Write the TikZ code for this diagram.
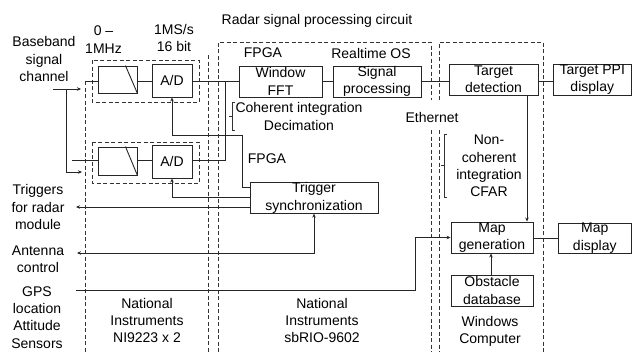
\documentclass[tikz,border=0pt]{standalone}
\usepackage{fontspec}
\setmainfont{Liberation Sans}
\usetikzlibrary{arrows.meta}

\begin{document}
\begin{tikzpicture}[x=1pt,y=-1pt,
  every node/.style={font=\fontsize{14}{17.3}\selectfont, text=black, align=center, inner sep=0pt},
  blk/.style={draw=black!85, rectangle, line width=0.9pt},
  wire/.style={draw=black!85, line width=0.9pt},
  arr/.style={wire, -{Stealth[length=4pt,width=3.5pt]}},
  grp/.style={draw=black!80, line width=0.8pt, dash pattern=on 4pt off 2.5pt},
  brk/.style={draw=black!80, line width=0.6pt},
]
\useasboundingbox (0,0) rectangle (632,351);

% row levels
\coordinate (row1) at (0,81);
\coordinate (row2) at (0,160);

% acquisition blocks
\node[blk, minimum width=39pt, minimum height=27pt] (filt1) at (117.5,79.5) {};
\node[blk, minimum width=40pt, minimum height=33pt] (ad1) at (172,80.5) {A/D};
\node[blk, minimum width=39pt, minimum height=28pt] (filt2) at (117.5,161) {};
\node[blk, minimum width=40pt, minimum height=33pt] (ad2) at (172,161.5) {A/D};
\draw[wire] ([xshift=-12pt]filt1.north east) -- (filt1.south east);
\draw[wire] ([xshift=-12pt]filt2.north east) -- (filt2.south east);

% processing blocks
\node[blk, minimum width=83pt, minimum height=31pt] (win) at (280.5,81.5) {Window\\FFT};
\node[blk, minimum width=88pt, minimum height=31pt] (sig) at (377,81.5) {Signal\\processing};
\node[blk, minimum width=89pt, minimum height=31pt] (tdet) at (493.5,79.5) {Target\\detection};
\node[blk, minimum width=78.5pt, minimum height=31pt] (ppi) at (592.25,79.5) {Target PPI\\display};
\node[blk, minimum width=128pt, minimum height=30pt] (trig) at (314,198) {Trigger\\synchronization};
\node[blk, minimum width=82pt, minimum height=31pt] (mapg) at (492,237.5) {Map\\generation};
\node[blk, minimum width=73.5pt, minimum height=30pt] (mapd) at (594.75,238) {Map\\display};
\node[blk, minimum width=82pt, minimum height=31pt] (obst) at (492,290.5) {Obstacle\\database};

% dashed groupings
\draw[grp] (92,60) rectangle (199,102);
\draw[grp] (92,142) rectangle (199,183);
\draw[grp] (85,81) -- (85,352);
\draw[grp] (208,55) -- (208,352);
\draw[grp] (218,352) -- (218,42) -- (431,42) -- (431,100);
\draw[grp] (431,130) -- (431,352);
\draw[grp] (439,100) -- (439,42) -- (543,42) -- (543,352);
\draw[grp] (439,130) -- (439,352);

% free ends of connectors
\coordinate (bbin) at (53,89);
\coordinate (bbsplit) at (66,89);
\coordinate (bbtip1) at (81,89);
\coordinate (bbtip2) at (82,172);
\coordinate (stub1) at (85,81);
\coordinate (stub2) at (72,160);
\coordinate (trigout) at (76,207);
\coordinate (antout) at (77,253);
\coordinate (gpsin) at (76,290);
\coordinate (trunk) at (225,81);

% baseband inputs
\draw[arr] (bbin) -- (bbtip1);
\draw[arr] (bbsplit) |- (bbtip2);
\draw[wire] (stub1) -- (filt1.west |- row1);
\draw[wire] (stub2) -- (filt2.west |- row2);
\draw[wire] (filt1.east |- row1) -- (ad1.west |- row1);
\draw[wire] (filt2.east |- row2) -- (ad2.west |- row2);

% data path
\draw[wire] (ad1.east |- row1) -- (win.west |- row1);
\draw[wire] (ad2.east |- row2) -| (trunk);
\draw[wire] (win.east |- row1) -- (sig.west |- row1);
\draw[wire] (sig.east |- row1) -- (tdet.west |- row1);
\draw[wire] (tdet.east |- row1) -- (ppi.west |- row1);

% trigger lines
\draw[arr] (trig.west |- 0,187) -- (242,187) -- (242,135) -| (ad1.south);
\draw[arr] (trig.west |- 0,197) -| (ad2.south);
\draw[arr] (trig.west |- 0,207) -- (trigout);
\draw[wire, {Stealth[length=4pt,width=3.5pt]}-{Stealth[length=4pt,width=3.5pt]}] (antout) -| (trig.south);

% map path
\draw[arr] (gpsin) -- (415,290) |- (mapg.west);
\draw[arr] (tdet.south -| 527,0) -- (mapg.north -| 527,0);
\draw[arr] (obst.north -| 491,0) -- (mapg.south -| 491,0);
\draw[wire] (mapg.east |- 0,238) -- (mapd.west |- 0,238);

% brackets
\draw[brk] (234.5,102) -- (232,102) -- (232,130) -- (234.5,130);
\draw[brk] (232,116) -- (229,116);
\draw[brk] (446.5,134) -- (444,134) -- (444,197) -- (446.5,197);
\draw[brk] (444,165) -- (441,165);

% labels
\node (ttl) at (317,21) {Radar signal processing circuit};
\node (lbw) at (103.5,39.5) {0 –\\1MHz};
\node (lsr) at (174,38) {1MS/s\\16 bit};
\node (lbb) at (44,59) {Baseband\\signal\\channel};
\node (lfp1) at (263,53) {FPGA};
\node (lrt) at (371,53) {Realtime OS};
\node (lci) at (299,116.5) {Coherent integration\\Decimation};
\node (lfp2) at (267,159) {FPGA};
\node (leth) at (432,117) {Ethernet};
\node (lnci) at (489,166) {Non-\\coherent\\integration\\CFAR};
\node (ltrg) at (38,207) {Triggers\\for radar\\module};
\node (lant) at (38,259.5) {Antenna\\control};
\node (lgps) at (37,317.5) {GPS\\location\\Attitude\\Sensors};
\node (lni1) at (147,320.5) {National\\Instruments\\NI9223 x 2};
\node (lni2) at (322,320.5) {National\\Instruments\\sbRIO-9602};
\node (lwin) at (490,331.5) {Windows\\Computer};
\end{tikzpicture}
\end{document}
